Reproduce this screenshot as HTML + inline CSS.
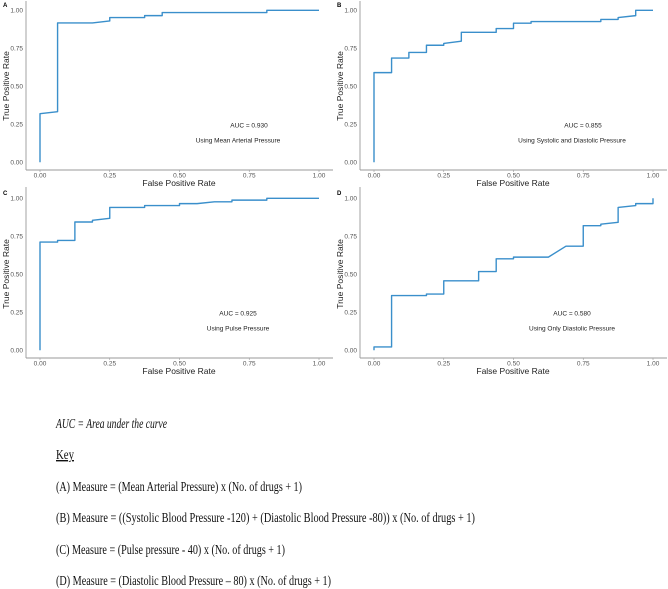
<!DOCTYPE html>
<html><head><meta charset="utf-8"><style>
html,body{margin:0;padding:0;background:#fff;}
svg{display:block;}
</style></head><body>
<svg id="fig" width="668" height="589" viewBox="0 0 668 589" xmlns="http://www.w3.org/2000/svg">
<g id="panels"></g>
<g font-family="'Liberation Serif', serif" font-size="14" fill="#111">
<text x="56" y="428" font-style="italic" textLength="111" lengthAdjust="spacingAndGlyphs">AUC = Area under the curve</text>
<text x="56" y="459" text-decoration="underline" textLength="18" lengthAdjust="spacingAndGlyphs">Key</text>
<text x="56" y="491" textLength="246" lengthAdjust="spacingAndGlyphs">(A) Measure = (Mean Arterial Pressure) x (No. of drugs + 1)</text>
<text x="56" y="522" textLength="419" lengthAdjust="spacingAndGlyphs">(B) Measure = ((Systolic Blood Pressure -120) + (Diastolic Blood Pressure -80)) x (No. of drugs + 1)</text>
<text x="56" y="554" textLength="229" lengthAdjust="spacingAndGlyphs">(C) Measure = (Pulse pressure - 40) x (No. of drugs + 1)</text>
<text x="56" y="585" textLength="275" lengthAdjust="spacingAndGlyphs">(D) Measure = (Diastolic Blood Pressure – 80) x (No. of drugs + 1)</text>
</g>
</svg>
<script>
const tickValues = [0, 0.25, 0.5, 0.75, 1];
const tickLabels = ["0.00", "0.25", "0.50", "0.75", "1.00"];
const panelLetters = ["A", "B", "C", "D"];
const aucLabels = ["AUC = 0.930", "AUC = 0.855", "AUC = 0.925", "AUC = 0.580"];
const measureLabels = ["Using Mean Arterial Pressure", "Using Systolic and Diastolic Pressure", "Using Pulse Pressure", "Using Only Diastolic Pressure"];
const fprA = [0,0,0.063,0.063,0.188,0.25,0.25,0.375,0.375,0.438,0.438,0.813,0.813,1];
const tprA = [0,0.32,0.333,0.917,0.917,0.93,0.952,0.952,0.965,0.965,0.985,0.985,1,1];
const fprB = [0,0,0.063,0.063,0.125,0.125,0.188,0.188,0.25,0.25,0.313,0.313,0.438,0.438,0.5,0.5,0.563,0.563,0.813,0.813,0.875,0.875,0.938,0.938,1];
const tprB = [0,0.59,0.59,0.686,0.686,0.723,0.723,0.77,0.77,0.782,0.797,0.855,0.855,0.88,0.88,0.915,0.915,0.926,0.926,0.94,0.94,0.952,0.965,1,1];
const fprC = [0,0,0.063,0.063,0.125,0.125,0.188,0.188,0.25,0.25,0.375,0.375,0.5,0.5,0.563,0.625,0.688,0.688,0.813,0.813,1];
const tprC = [0,0.712,0.712,0.723,0.723,0.844,0.844,0.855,0.868,0.94,0.94,0.952,0.952,0.965,0.965,0.977,0.977,0.988,0.988,1,1];
const fprD = [0,0,0.063,0.063,0.188,0.188,0.25,0.25,0.375,0.375,0.438,0.438,0.5,0.5,0.625,0.688,0.75,0.75,0.813,0.813,0.875,0.875,0.938,0.938,1,1];
const tprD = [0,0.022,0.022,0.36,0.36,0.37,0.37,0.457,0.457,0.518,0.518,0.602,0.602,0.613,0.613,0.685,0.685,0.82,0.82,0.83,0.842,0.94,0.952,0.965,0.965,1];
const fprSeries = [fprA, fprB, fprC, fprD];
const tprSeries = [tprA, tprB, tprC, tprD];

const NS = "http://www.w3.org/2000/svg";
const root = document.getElementById("panels");
const offsets = [[0,0],[334,0],[0,188],[334,188]];
const aucX = [249, 249, 238, 238];
const subX = [238, 238, 238, 238];
function mk(tag, attrs, parent, text) {
  const e = document.createElementNS(NS, tag);
  for (const k in attrs) e.setAttribute(k, attrs[k]);
  if (text !== undefined) e.textContent = text;
  parent.appendChild(e);
  return e;
}
for (let p = 0; p < 4; p++) {
  const [ox, oy] = offsets[p];
  const xs = v => ox + 40 + v * 279;
  const ys = v => oy + 162.3 - v * 152;
  const g = mk("g", {font_family: ""}, root);
  
  
  g.setAttribute("font-family", "'Liberation Sans', sans-serif");
  const lt = mk("text", {x: ox + 3, y: oy + 7, "font-size": 6, "font-weight": "bold", fill: "#000"}, g, panelLetters[p]);
  
  
  const ya = mk("line", {x1: ox + 26, y1: oy + (p < 2 ? 1 : -1), x2: ox + 26, y2: oy + 170, stroke: "#999", "stroke-width": 0.9}, g);
  
  
  const xa = mk("line", {x1: ox + 26, y1: oy + 170, x2: ox + 333, y2: oy + 170, stroke: "#999", "stroke-width": 0.9}, g);
  
  
  for (let i = 0; i < tickValues.length; i++) {
    const tx = mk("text", {x: xs(tickValues[i]), y: oy + 177.5, "font-size": 6.5, fill: "#555", "text-anchor": "middle"}, g, tickLabels[i]);
    
    
    const tk = mk("line", {x1: xs(tickValues[i]), y1: oy + 170, x2: xs(tickValues[i]), y2: oy + 172, stroke: "#999", "stroke-width": 0.6}, g);
    
    
    const ty = mk("text", {x: ox + 23, y: ys(tickValues[i]) + 2.3, "font-size": 6.5, fill: "#555", "text-anchor": "end"}, g, tickLabels[i]);
    
    
  }
  const xt = mk("text", {x: ox + 179, y: oy + 186, "font-size": 8.5, fill: "#222", "text-anchor": "middle"}, g, "False Positive Rate");
  
  
  const yt = mk("text", {x: 0, y: 0, "font-size": 8.5, fill: "#222", "text-anchor": "middle", transform: `translate(${ox + 9},${oy + 86}) rotate(-90)`}, g, "True Positive Rate");
  
  
  const at = mk("text", {x: ox + aucX[p], y: oy + 127.5, "font-size": 6.5, fill: "#222", "text-anchor": "middle"}, g, aucLabels[p]);
  
  
  const st = mk("text", {x: ox + subX[p], y: oy + 142.5, "font-size": 6.5, fill: "#222", "text-anchor": "middle"}, g, measureLabels[p]);
  
  
  const fx = fprSeries[p], ty2 = tprSeries[p];
  let d = "";
  for (let i = 0; i < fx.length; i++) d += (i ? "L" : "M") + xs(fx[i]).toFixed(2) + "," + ys(ty2[i]).toFixed(2);
  const path = mk("path", {d: d, fill: "none", stroke: "#3a8fcb", "stroke-width": 1.4, "stroke-linejoin": "round"}, g);
  
  
}
</script>
</body></html>
